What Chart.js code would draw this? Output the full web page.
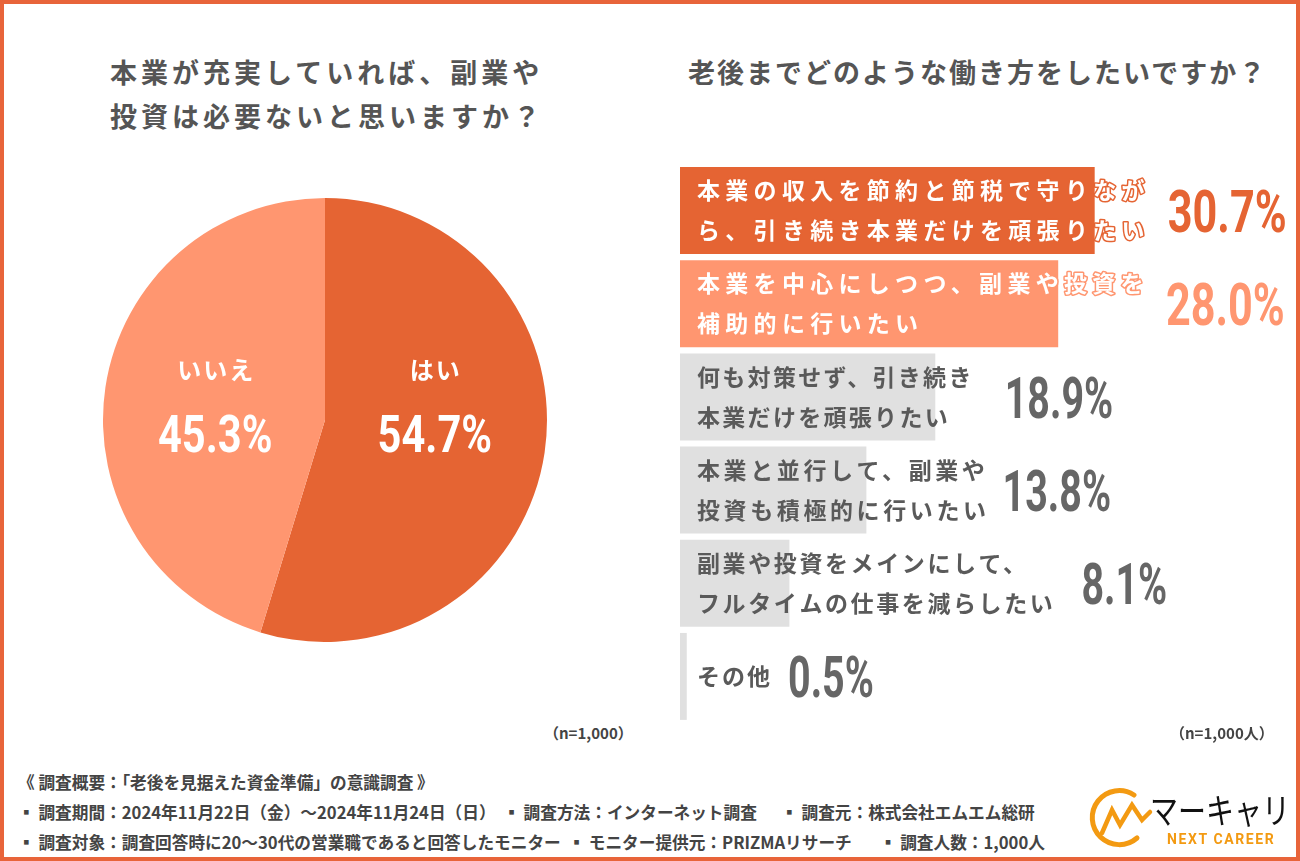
<!DOCTYPE html>
<html lang="ja">
<head>
<meta charset="utf-8">
<script src="https://cdn.jsdelivr.net/npm/chart.js@4"></script>
<style>
  html, body { margin: 0; padding: 0; background: #fff; }
  #wrap { position: relative; width: 1300px; height: 861px; overflow: hidden; background: #fff;
          font-family: "Noto Sans CJK JP", "Noto Sans", sans-serif; }
  #frame { position: absolute; left: 0; top: 0; width: 1292px; height: 853px; border: 4px solid #E8643A; pointer-events: none; z-index: 5; }
  .title { position: absolute; color: #555; font-weight: 700; font-size: 27px; white-space: pre; line-height: 44px; }
  .note { position: absolute; color: #444; font-size: 15px; font-weight: 700; white-space: pre; }
  .foot { position: absolute; left: 18px; color: #444; font-size: 17px; font-weight: 700; white-space: pre;
          transform-origin: 0 50%; transform: scaleX(0.98); }
  canvas { position: absolute; }
</style>
</head>
<body>
<div id="wrap">
  <div class="title" style="left:110px; top:50px; letter-spacing:4px;">本業が充実していれば、副業や
投資は必要ないと思いますか？</div>
  <div class="title" style="left:688px; top:50px; letter-spacing:2px;">老後までどのような働き方をしたいですか？</div>

  <canvas id="pieChart" width="444" height="444" style="left:103px; top:198px;"></canvas>
  <canvas id="barChart" width="620" height="559" style="left:680px; top:164px;"></canvas>

  <div class="note" style="left:544px; top:722px;">（n=1,000）</div>
  <div class="note" style="left:1170px; top:722px;">（n=1,000人）</div>

  <div class="foot" style="top:769px;">《 調査概要：「老後を見据えた資金準備」の意識調査 》</div>
  <div class="foot" style="top:799px;">▪ 調査期間：2024年11月22日（金）〜2024年11月24日（日）  ▪ 調査方法：インターネット調査　  ▪ 調査元：株式会社エムエム総研</div>
  <div class="foot" style="top:829px;">▪ 調査対象：調査回答時に20〜30代の営業職であると回答したモニター  ▪ モニター提供元：PRIZMAリサーチ　   ▪ 調査人数：1,000人</div>

  <svg style="position:absolute; left:1080px; top:780px;" width="80" height="75">
    <path d="M 54 15 A 27 27 0 1 0 57 58" fill="none" stroke="#F39A12" stroke-width="5" stroke-linecap="round"/>
    <polyline points="22,53 32,30 40,45 52,25 62,40 70,32" fill="none" stroke="#F39A12" stroke-width="4.5" stroke-linejoin="miter" stroke-linecap="round"/>
  </svg>
  <div style="position:absolute; left:1150px; top:788px; font-size:35px; line-height:42px; color:#111; font-weight:400; white-space:pre;
              transform-origin:0 50%; transform:scaleX(0.8);">マーキャリ</div>
  <div style="position:absolute; left:1167px; top:831px; font-size:14px; line-height:17px; color:#F39A12; font-weight:700; letter-spacing:1.6px; font-family:Roboto, sans-serif;">NEXT CAREER</div>

  <div id="frame"></div>
</div>

<script>
// left: 本業が充実していれば、副業や投資は必要ないと思いますか？
const pieLabels = ['はい', 'いいえ'];
const pieValues = [54.7, 45.3];

// right: 老後までどのような働き方をしたいですか？
const workLabels = [
    ['本業の収入を節約と節税で守りなが', 'ら、引き続き本業だけを頑張りたい'],
    ['本業を中心にしつつ、副業や投資を', '補助的に行いたい'],
    ['何も対策せず、引き続き', '本業だけを頑張りたい'],
    ['本業と並行して、副業や', '投資も積極的に行いたい'],
    ['副業や投資をメインにして、', 'フルタイムの仕事を減らしたい'],
    ['その他']
];
const workValues = [30.7, 28.0, 18.9, 13.8, 8.1, 0.5];

const DARK = '#E56433';
const LIGHT = '#FF9670';
const GRAY = '#E0E0E0';

const barColors = [DARK, LIGHT, GRAY, GRAY, GRAY, GRAY];
const valueColors = [DARK, LIGHT, '#666', '#666', '#666', '#666'];
const labelSpacing = [5.3, 5.3, 2.3, 3.6, 2.6, 2];
const valueGap = [18, 17, 31, 13, 26, 16];
const valueSize = [60, 60, 58, 58, 58, 58];
const valueScale = [0.72, 0.72, 0.68, 0.68, 0.68, 0.68];

// percent labels drawn narrow, like a condensed face
function drawNarrow(ctx, text, x, y, size, sx, align) {
    ctx.save();
    ctx.font = 'bold ' + size + 'px Roboto';
    ctx.letterSpacing = '0px';
    const w = ctx.measureText(text).width * sx;
    let left = x;
    if (align === 'center') left = x - w / 2;
    ctx.translate(left, y);
    ctx.scale(sx, 1);
    ctx.textAlign = 'left';
    ctx.textBaseline = 'alphabetic';
    ctx.fillText(text, 0, 0);
    ctx.restore();
}

const pieLabelPlugin = {
    id: 'pieLabels',
    afterDatasetsDraw(chart) {
        const ctx = chart.ctx;
        const meta = chart.getDatasetMeta(0);
        meta.data.forEach((arc, i) => {
            const mid = (arc.startAngle + arc.endAngle) / 2;
            const x = arc.x + Math.cos(mid) * arc.outerRadius * 0.5;
            const y = arc.y - 18;
            ctx.save();
            ctx.fillStyle = '#fff';
            ctx.font = 'bold 24px "Noto Sans CJK JP"';
            ctx.letterSpacing = '2px';
            ctx.textAlign = 'center';
            ctx.textBaseline = 'middle';
            ctx.fillText(pieLabels[i], x + 1, y - 32);
            drawNarrow(ctx, pieValues[i].toFixed(1) + '%', x, y + 50, 52, 0.8, 'center');
            ctx.restore();
        });
    }
};

const barLabelPlugin = {
    id: 'barLabels',
    afterDatasetsDraw(chart) {
        const ctx = chart.ctx;
        const meta = chart.getDatasetMeta(0);
        const x0 = chart.chartArea.left + 17;
        meta.data.forEach((bar, i) => {
            const lines = workLabels[i];
            ctx.save();
            ctx.font = 'bold 23px "Noto Sans CJK JP"';
            ctx.letterSpacing = labelSpacing[i] + 'px';
            ctx.textAlign = 'left';
            ctx.textBaseline = 'middle';
            let maxW = 0;
            lines.forEach((ln, j) => {
                const y = bar.y + (j - (lines.length - 1) / 2) * 40;
                if (i < 2) {
                    // white text with an outline in the bar colour, so the overflow stays readable
                    ctx.lineWidth = 3;
                    ctx.lineJoin = 'round';
                    ctx.strokeStyle = barColors[i];
                    ctx.strokeText(ln, x0, y);
                    ctx.fillStyle = '#fff';
                } else {
                    ctx.fillStyle = '#5a5a5a';
                }
                ctx.fillText(ln, x0, y);
                maxW = Math.max(maxW, ctx.measureText(ln).width);
            });
            ctx.fillStyle = valueColors[i];
            drawNarrow(ctx, workValues[i].toFixed(1) + '%', x0 + maxW + valueGap[i], bar.y + 21,
                       valueSize[i], valueScale[i], 'left');
            ctx.restore();
        });
    }
};

new Chart(document.getElementById('pieChart'), {
    type: 'pie',
    data: {
        labels: pieLabels,
        datasets: [{
            data: pieValues,
            backgroundColor: [DARK, LIGHT],
            borderWidth: 0
        }]
    },
    options: {
        responsive: false,
        animation: false,
        layout: { padding: 0 },
        plugins: {
            legend: { display: false },
            tooltip: { enabled: false }
        }
    },
    plugins: [pieLabelPlugin]
});

new Chart(document.getElementById('barChart'), {
    type: 'bar',
    data: {
        labels: workLabels.map(l => l.join('')),
        datasets: [{
            data: workValues,
            backgroundColor: barColors,
            borderWidth: 0,
            categoryPercentage: 0.933,
            barPercentage: 1
        }]
    },
    options: {
        indexAxis: 'y',
        responsive: false,
        animation: false,
        layout: { padding: 0 },
        scales: {
            x: { display: false, min: 0, max: 45.9 },
            y: { display: false }
        },
        plugins: {
            legend: { display: false },
            tooltip: { enabled: false }
        }
    },
    plugins: [barLabelPlugin]
});
</script>
</body>
</html>
